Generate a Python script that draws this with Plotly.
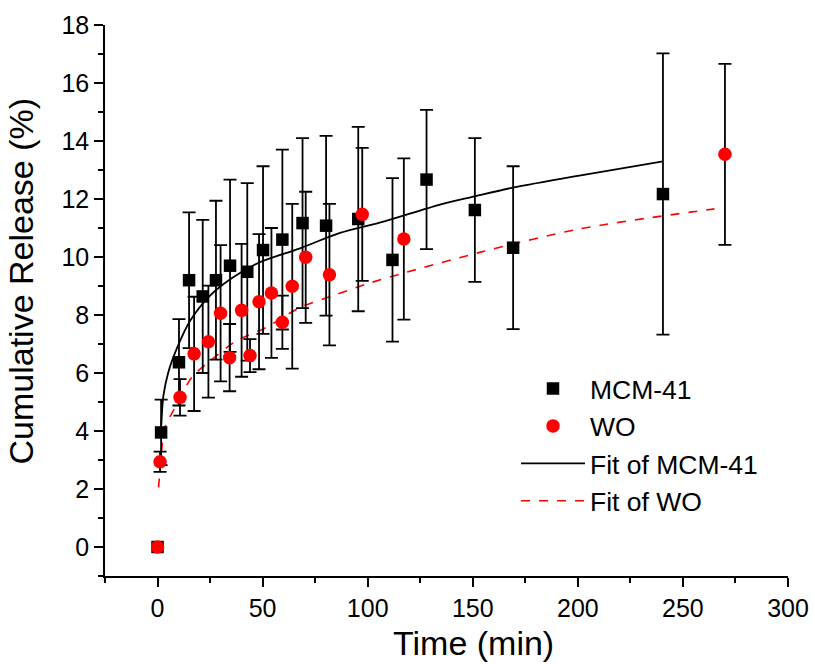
import plotly.graph_objects as go

# ---- data ----
mcm_t = [0, 1.7, 10.2, 15, 21.5, 27.8, 34.5, 42.7, 50.2, 59.4, 69, 80.2, 95.5, 111.8, 128, 151, 169.2, 240.5]
mcm_v = [0, 3.95, 6.37, 9.2, 8.64, 9.2, 9.7, 9.49, 10.24, 10.6, 11.17, 11.08, 11.31, 9.9, 12.67, 11.62, 10.32, 12.17]
mcm_e = [0, 1.13, 1.49, 2.34, 2.64, 2.74, 2.97, 3.06, 2.89, 3.1, 2.93, 3.1, 3.18, 2.82, 2.4, 2.48, 2.81, 4.85]

wo_t = [0, 1.2, 10.7, 17.4, 24.2, 30, 34.3, 40, 44, 48.3, 54.2, 59.4, 64.1, 70.5, 81.8, 97.4, 117.2, 270]
wo_v = [0, 2.94, 5.16, 6.66, 7.08, 8.06, 6.53, 8.16, 6.6, 8.46, 8.76, 7.75, 8.99, 9.99, 9.39, 11.47, 10.62, 13.54]
wo_e = [0, 0.35, 0.63, 1.97, 1.93, 2.35, 1.16, 2.29, 0.57, 2.33, 2.24, 0.92, 2.84, 2.26, 2.44, 2.29, 2.78, 3.12]

fit_mcm_t = [1.7, 2.8, 5.1, 9.1, 15.5, 25, 36, 48.7, 67.8, 86.8, 108, 134, 151, 169, 200, 240.5]
fit_mcm_v = [4.07, 5.22, 6.02, 6.83, 7.8, 8.67, 9.3, 9.82, 10.3, 10.83, 11.23, 11.8, 12.09, 12.39, 12.8, 13.3]

fit_wo_t = [0.5, 3.6, 7.5, 16.3, 24.2, 37.6, 51.9, 67.8, 83.6, 99.5, 115.3, 153.4, 200.9, 265]
fit_wo_v = [2.05, 4.13, 4.7, 5.85, 6.37, 7.11, 7.58, 8.26, 8.67, 9.07, 9.41, 10.16, 10.97, 11.66]

x_ticks = [0, 50, 100, 150, 200, 250, 300]
y_ticks = [0, 2, 4, 6, 8, 10, 12, 14, 16, 18]

FONT = "Arial, Liberation Sans, sans-serif"

ML, MR, MT, MB = 105, 27, 25, 88
PW = 815 - ML - MR
PH = 664 - MT - MB

fig = go.Figure()

fig.add_trace(go.Scatter(
    x=fit_mcm_t, y=fit_mcm_v, mode="lines", name="Fit of MCM-41",
    line=dict(color="black", width=1.8, shape="spline", smoothing=0.8),
    legendrank=3))
fig.add_trace(go.Scatter(
    x=fit_wo_t, y=fit_wo_v, mode="lines", name="Fit of WO",
    line=dict(color="red", width=1.6, dash="dash", shape="spline", smoothing=0.8),
    legendrank=4))

fig.add_trace(go.Scatter(
    x=mcm_t, y=mcm_v, mode="markers", name="MCM-41",
    marker=dict(symbol="square", size=12.5, color="black"),
    error_y=dict(type="data", array=mcm_e, visible=True, color="black",
                 thickness=1.8, width=6.5),
    legendrank=1))
fig.add_trace(go.Scatter(
    x=wo_t, y=wo_v, mode="markers", name="WO",
    marker=dict(symbol="circle", size=13.5, color="red"),
    error_y=dict(type="data", array=wo_e, visible=True, color="black",
                 thickness=1.8, width=6.5),
    legendrank=2))

axis_common = dict(
    showline=True, linecolor="black", linewidth=1.5,
    ticks="outside", ticklen=9, tickwidth=1.5, tickcolor="black",
    showgrid=False, zeroline=False, mirror=False, automargin=False,
    tickfont=dict(family=FONT, size=25, color="black"),
)

fig.update_xaxes(range=[-25, 300], tickvals=x_ticks,
                 minor=dict(dtick=25, tick0=0, ticks="outside", ticklen=5,
                            tickwidth=1.5, tickcolor="black", showgrid=False),
                 **axis_common)
fig.update_yaxes(range=[-1, 18], tickvals=y_ticks,
                 minor=dict(dtick=1, tick0=0, ticks="outside", ticklen=5,
                            tickwidth=1.5, tickcolor="black", showgrid=False),
                 **axis_common)

fig.add_annotation(text="Time (min)", xref="paper", yref="paper",
                   x=(473 - ML) / PW, y=(576 - 643) / PH,
                   xanchor="center", yanchor="middle",
                   showarrow=False, font=dict(family=FONT, size=34, color="black"))
fig.add_annotation(text="Cumulative Release (%)", xref="paper", yref="paper",
                   x=(20 - ML) / PW, y=(576 - 281.5) / PH,
                   xanchor="center", yanchor="middle",
                   textangle=-90, showarrow=False,
                   font=dict(family=FONT, size=34, color="black"))

fig.update_layout(
    width=815, height=664,
    margin=dict(l=ML, r=MR, t=MT, b=MB, autoexpand=False),
    paper_bgcolor="white", plot_bgcolor="white",
    showlegend=True,
    legend=dict(x=(516 - ML) / PW, y=(576 - 444.7) / PH,
                xanchor="left", yanchor="middle",
                bgcolor="rgba(0,0,0,0)", borderwidth=0,
                font=dict(family=FONT, size=26.5, color="black"),
                itemwidth=64, tracegroupgap=0),
)

fig.write_html("out.html")
